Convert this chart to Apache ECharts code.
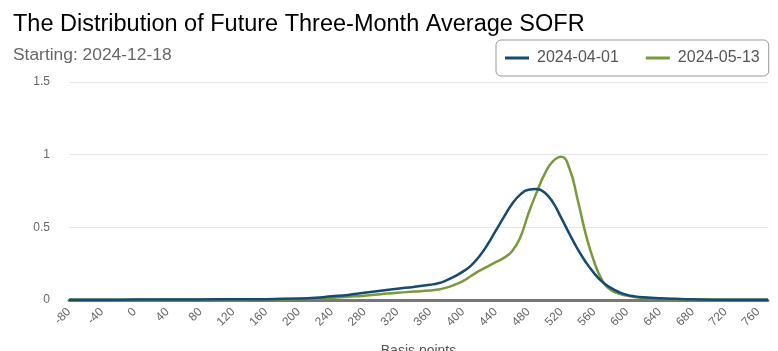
<!DOCTYPE html>
<html>
<head>
<meta charset="utf-8">
<script src="https://cdn.jsdelivr.net/npm/echarts@6/dist/echarts.min.js"></script>
<style>
  html, body { margin: 0; padding: 0; background: #fff; }
  #chart { width: 778px; height: 351px; }
</style>
</head>
<body>
<div id="chart"></div>
<script>
// 分布曲线数据（基点 / 概率密度）
var aprilBp = [-80, -40, 0, 40, 80, 120, 160, 200, 220, 240, 260, 280, 300, 320, 340, 360, 370, 380, 390, 400, 410, 420, 430, 440, 450, 460, 470, 480, 490, 500, 510, 520, 530, 540, 550, 560, 570, 580, 590, 600, 610, 620, 640, 660, 680, 720, 772];
var aprilVal = [0.002, 0.002, 0.003, 0.003, 0.004, 0.005, 0.006, 0.01, 0.015, 0.025, 0.035, 0.05, 0.063, 0.078, 0.09, 0.105, 0.115, 0.135, 0.162, 0.195, 0.237, 0.30, 0.38, 0.475, 0.57, 0.66, 0.725, 0.758, 0.763, 0.738, 0.67, 0.565, 0.455, 0.35, 0.26, 0.185, 0.125, 0.085, 0.055, 0.035, 0.025, 0.019, 0.012, 0.008, 0.005, 0.002, 0.001];

var mayBp = [-80, -40, 0, 40, 80, 120, 160, 200, 220, 240, 260, 280, 300, 320, 340, 360, 370, 380, 390, 400, 410, 420, 430, 440, 450, 460, 470, 480, 490, 500, 510, 520, 530, 540, 550, 560, 570, 580, 590, 600, 610, 620, 640, 660, 680, 720, 772];
var mayVal = [0.001, 0.001, 0.002, 0.003, 0.004, 0.004, 0.005, 0.007, 0.01, 0.014, 0.022, 0.03, 0.04, 0.05, 0.058, 0.065, 0.072, 0.085, 0.105, 0.13, 0.165, 0.20, 0.23, 0.26, 0.29, 0.335, 0.43, 0.595, 0.74, 0.87, 0.955, 0.985, 0.905, 0.69, 0.45, 0.265, 0.135, 0.07, 0.045, 0.03, 0.02, 0.014, 0.009, 0.006, 0.004, 0.002, 0.001];

var seriesNames = ['2024-04-01', '2024-05-13'];
var yTicks = [0, 0.5, 1, 1.5];

function zip(xs, ys) {
    return xs.map(function(x, i) { return [x, ys[i]]; });
}

var myChart = echarts.init(document.getElementById('chart'));
var font = "'Liberation Sans', Arial, sans-serif";

var option = {
    backgroundColor: '#fff',
    textStyle: { fontFamily: font },
    title: [{
        text: 'The Distribution of Future Three-Month Average SOFR',
        left: 8,
        top: 8,
        textStyle: { fontFamily: font, fontSize: 23.5, fontWeight: 'normal', color: '#000' }
    }, {
        text: 'Starting: 2024-12-18',
        left: 8,
        top: 42,
        textStyle: { fontFamily: font, fontSize: 17.4, fontWeight: 'normal', color: '#666' }
    }],
    legend: {
        left: 496,
        top: 40,
        data: seriesNames,
        icon: 'rect',
        itemWidth: 24,
        itemHeight: 3,
        itemGap: 27,
        padding: [10, 9, 10, 9],
        borderColor: '#999',
        borderWidth: 1,
        borderRadius: 5,
        textStyle: { fontFamily: font, fontSize: 16, color: '#555', padding: [0, 0, 0, 3] }
    },
    grid: {
        left: 69,
        right: 10,
        top: 82,
        bottom: 51,
        outerBoundsMode: 'none'
    },
    xAxis: {
        type: 'value',
        min: -80,
        max: 772,
        interval: 40,
        name: 'Basis points',
        nameLocation: 'middle',
        nameGap: 44,
        nameTextStyle: { fontFamily: font, fontSize: 14, color: '#555' },
        axisLine: { lineStyle: { color: '#777', width: 3 } },
        axisTick: { show: false },
        splitLine: { show: false },
        axisLabel: {
            rotate: 45,
            margin: 10,
            showMaxLabel: false,
            fontFamily: font,
            fontSize: 12,
            color: '#666'
        }
    },
    yAxis: {
        type: 'value',
        min: yTicks[0],
        max: yTicks[yTicks.length - 1],
        interval: 0.5,
        axisLine: { show: false },
        axisTick: { show: false },
        splitLine: { lineStyle: { color: '#e6e6e6', width: 1 } },
        axisLabel: { margin: 19, fontFamily: font, fontSize: 12, color: '#666' }
    },
    series: [{
        name: seriesNames[0],
        type: 'line',
        smooth: true,
        symbol: 'none',
        itemStyle: { color: '#164a6e' },
        lineStyle: { color: '#164a6e', width: 2.5 },
        z: 3,
        data: zip(aprilBp, aprilVal)
    }, {
        name: seriesNames[1],
        type: 'line',
        smooth: true,
        symbol: 'none',
        itemStyle: { color: '#7a993e' },
        lineStyle: { color: '#7a993e', width: 2.5 },
        z: 2,
        data: zip(mayBp, mayVal)
    }]
};

myChart.setOption(option);
</script>
</body>
</html>
